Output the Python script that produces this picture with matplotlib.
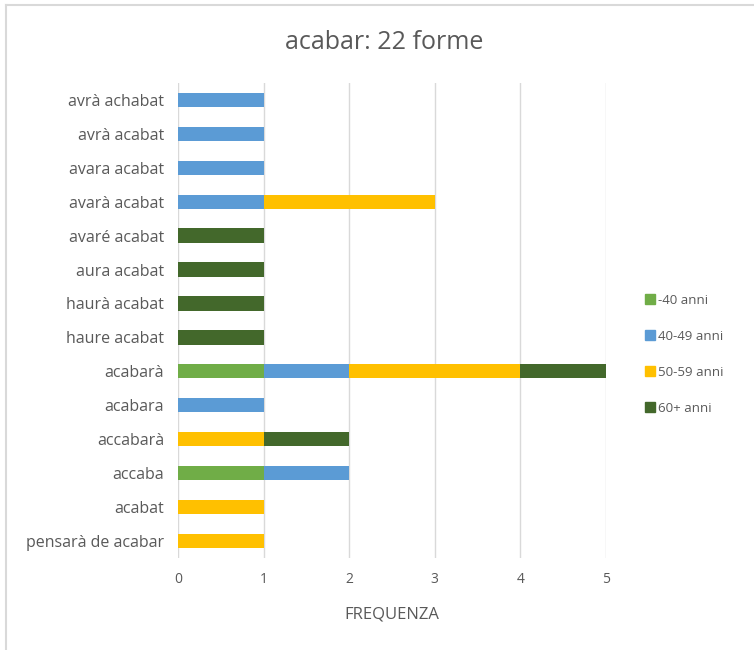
import numpy as np
import matplotlib.pyplot as plt
from matplotlib.lines import Line2D

plt.rcParams['font.family'] = ['Open Sans', 'DejaVu Sans']

# forme (dal basso verso l'alto)
forme = ['pensarà de acabar', 'acabat', 'accaba', 'accabarà', 'acabara', 'acabarà',
         'haure acabat', 'haurà acabat', 'aura acabat', 'avaré acabat',
         'avarà acabat', 'avara acabat', 'avrà acabat', 'avrà achabat']

fasce = ['-40 anni', '40-49 anni', '50-59 anni', '60+ anni']
colori = ['#70AD47', '#5B9BD5', '#FFC000', '#43682B']

meno40 = [0, 0, 1, 0, 0, 1, 0, 0, 0, 0, 0, 0, 0, 0]
da40a49 = [0, 0, 1, 0, 1, 1, 0, 0, 0, 0, 1, 1, 1, 1]
da50a59 = [1, 1, 0, 1, 0, 2, 0, 0, 0, 0, 2, 0, 0, 0]
oltre60 = [0, 0, 0, 1, 0, 1, 1, 1, 1, 1, 0, 0, 0, 0]

serie = [meno40, da40a49, da50a59, oltre60]

fig = plt.figure(figsize=(7.54, 6.5), dpi=100)
ax = fig.add_axes([0.236, 0.1415, 0.5676, 0.731])

y = np.arange(len(forme))
left = np.zeros(len(forme))
for vals, col, lab in zip(serie, colori, fasce):
    vals = np.array(vals, dtype=float)
    ax.barh(y, vals, left=left, height=0.42, color=col, label=lab, zorder=3)
    left += vals

ax.set_xlim(0, 5)
ax.set_ylim(-0.5, len(forme) - 0.5)
ax.set_xticks(range(6))
ax.set_yticks(y)
ax.set_yticklabels(forme)
ax.grid(axis='x', color='#D9D9D9', linewidth=1, zorder=0)
for s in ax.spines.values():
    s.set_visible(False)
ax.tick_params(axis='both', length=0, colors='#595959', labelsize=10)
ax.tick_params(axis='y', labelsize=11.5, pad=10)
ax.tick_params(axis='x', pad=10)
ax.set_xlabel('FREQUENZA', color='#595959', fontsize=12, labelpad=14)

fig.text(0.509, 0.935, 'acabar: 22 forme', ha='center', va='center',
         fontsize=18, color='#595959')

handles = [Line2D([], [], marker='s', linestyle='none', markersize=7,
                  markerfacecolor=c, markeredgecolor=c) for c in colori]
fig.legend(handles, fasce, loc='center left', bbox_to_anchor=(0.838, 0.455),
           frameon=False, fontsize=9.5, labelcolor='#595959',
           handletextpad=0.1, labelspacing=1.75, handlelength=1.0)

# cornice del grafico
fig.add_artist(Line2D([0.008, 0.008], [0.0, 0.992], transform=fig.transFigure,
                      color='#D9D9D9', linewidth=1.5))
fig.add_artist(Line2D([0.008, 1.0], [0.992, 0.992], transform=fig.transFigure,
                      color='#D9D9D9', linewidth=1.5))

fig.savefig('out.png', dpi=100, facecolor='white')
